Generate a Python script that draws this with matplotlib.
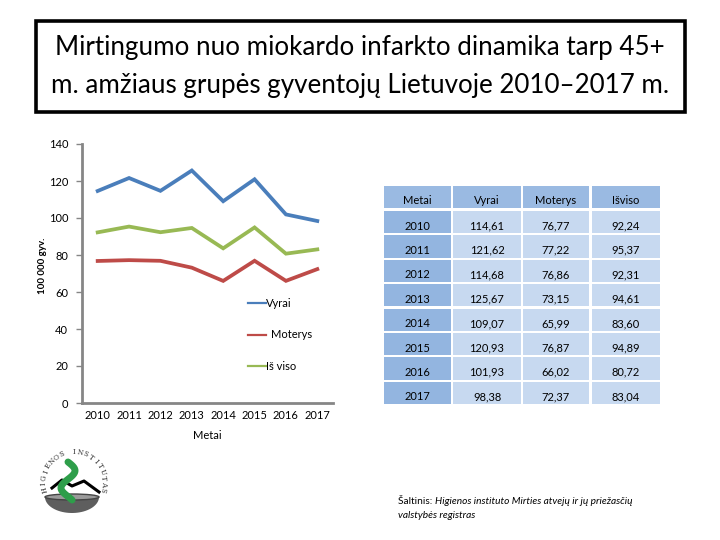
import matplotlib
matplotlib.use("Agg")
import matplotlib.pyplot as plt
from matplotlib.patches import Rectangle, Polygon, Ellipse
import numpy as np

years = [2010, 2011, 2012, 2013, 2014, 2015, 2016, 2017]
vyrai = [114.61, 121.62, 114.68, 125.67, 109.07, 120.93, 101.93, 98.38]
moterys = [76.77, 77.22, 76.86, 73.15, 65.99, 76.87, 66.02, 72.37]
is_viso = [92.24, 95.37, 92.31, 94.61, 83.60, 94.89, 80.72, 83.04]
series_names = ["Vyrai", "Moterys", "Iš viso"]
table_header = ["Metai", "Vyrai", "Moterys", "Išviso"]
y_ticks = [0, 20, 40, 60, 80, 100, 120, 140]

title_lines = ["Mirtingumo nuo miokardo infarkto dinamika tarp 45+",
               "m. amžiaus grupės gyventojų Lietuvoje 2010–2017 m."]

colors = ["#4A7EBB", "#BE4B48", "#98B954"]
FONT = "Lato"

fig = plt.figure(figsize=(7.2, 5.4), dpi=100)
fig.patch.set_facecolor("white")

# ---------- line chart ----------
ax = fig.add_axes([82/720, 1-403/540, (333-82)/720, (403-144)/540])
x = np.arange(len(years))
for vals, c, name in zip([vyrai, moterys, is_viso], colors, series_names):
    ax.plot(x, vals, color=c, lw=2.7, solid_joinstyle="miter", label=name)
ax.set_xlim(-0.5, len(years) - 0.5)
ax.set_ylim(0, 140)
ax.set_yticks(y_ticks)
ax.set_yticklabels([str(v) for v in y_ticks], fontsize=8, family=FONT)
ax.set_xticks(x)
ax.set_xticklabels([str(y) for y in years], fontsize=8, family=FONT)
ax.tick_params(axis="y", length=4, color="#868686", pad=6, width=1)
ax.tick_params(axis="x", length=0, pad=5)
for s in ["top", "right"]:
    ax.spines[s].set_visible(False)
for s in ["left", "bottom"]:
    ax.spines[s].set_color("#868686")
    ax.spines[s].set_linewidth(2)
ax.set_xlabel("Metai", fontsize=8, family=FONT, labelpad=0)
ax.xaxis.set_label_coords(0.5, -0.105)
ax.set_ylabel("100 000 gyv.", fontsize=7, family=FONT, fontweight="bold")
ax.yaxis.set_label_coords(-0.14, 0.53)

# in-plot legend (manual, matching the reference)
leg_y = [54, 37, 20]
for name, c, ly, dx in zip(series_names, colors, leg_y, [0.02, 0.17, 0.02]):
    ax.plot([4.8, 5.35], [ly, ly], color=c, lw=1.6, clip_on=False)
    ax.text(5.35 + dx, ly, name, fontsize=8, family=FONT, va="center", ha="left")

# ---------- overlay in pixel coordinates ----------
ov = fig.add_axes([0, 0, 1, 1], zorder=-1)
ov.set_xlim(0, 720)
ov.set_ylim(540, 0)
ov.axis("off")

# title box
ov.add_patch(Rectangle((36, 21), 649, 91, fill=False, ec="black", lw=2.6))
for line, ty in zip(title_lines, [48, 86]):
    ov.text(360, ty, line, ha="center", va="center", fontsize=18.7, family=FONT)

# table
col_x = [384, 453, 523, 592]
col_w = [67, 68, 66, 68]
header_top, header_h = 186, 22
row_top0, row_pitch, row_h = 211, 24.4, 22.2
header_col = "#9ABAE2"
first_col = "#93B5E0"
cell_col = "#C7D9F0"
for j, h in enumerate(table_header):
    ov.add_patch(Rectangle((col_x[j], header_top), col_w[j], header_h, fc=header_col, ec="none"))
    ov.text(col_x[j] + col_w[j] / 2, header_top + 15, h, ha="center", va="center",
            fontsize=8, family=FONT)

def fmt(v):
    return f"{v:.2f}".replace(".", ",")

for i, yr in enumerate(years):
    top = row_top0 + i * row_pitch
    vals = [str(yr), fmt(vyrai[i]), fmt(moterys[i]), fmt(is_viso[i])]
    for j, t in enumerate(vals):
        ov.add_patch(Rectangle((col_x[j], top), col_w[j], row_h,
                               fc=first_col if j == 0 else cell_col, ec="none"))
        ov.text(col_x[j] + col_w[j] / 2, top + 15, t, ha="center", va="center",
                fontsize=8, family=FONT)

# source
src = ov.text(398, 501, "Šaltinis: ", fontsize=7.3, family=FONT, va="center", ha="left")
ov.annotate("Higienos instituto Mirties atvejų ir jų priežasčių", xy=(1, 0.5),
            xycoords=src, fontsize=7.3, family=FONT, style="italic", va="center", ha="left")
ov.text(398, 515, "valstybės registras", fontsize=7.3, family=FONT, style="italic",
        va="center", ha="left")

# logo (approximation)
cx, cy, r = 74, 482, 30
word = "HIGIENOS INSTITUTAS"
angs = np.linspace(165, 375, len(word))
for ch, a in zip(word, angs):
    ra = np.radians(a)
    ov.text(cx + r * np.cos(ra), cy + r * np.sin(ra), ch, fontsize=5, family="DejaVu Serif",
            rotation=-a - 90, ha="center", va="center", color="#333333")
tt = np.linspace(0, np.pi, 40)
bowl = np.column_stack([cx - 2 + 27 * np.cos(tt), 497 + 16 * np.sin(tt)])
ov.add_patch(Polygon(bowl, closed=True, fc="#5E5E5E", ec="none"))
ov.add_patch(Ellipse((cx - 2, 497), 54, 6, fc="#9A9A9A", ec="#444444", lw=1))
ov.plot([cx - 22, cx - 12, cx - 2, cx + 10, cx + 25], [cy + 6, cy - 2, cy + 4, cy - 1, cy + 10],
        color="black", lw=2.2)
t = np.linspace(0, 1, 50)
ov.plot(cx - 6 + 7 * np.sin(t * 2.2 * np.pi), cy - 20 + 38 * t, color="#2E9E4A", lw=5,
        solid_capstyle="round")

fig.savefig("out.png", dpi=100, facecolor="white")
